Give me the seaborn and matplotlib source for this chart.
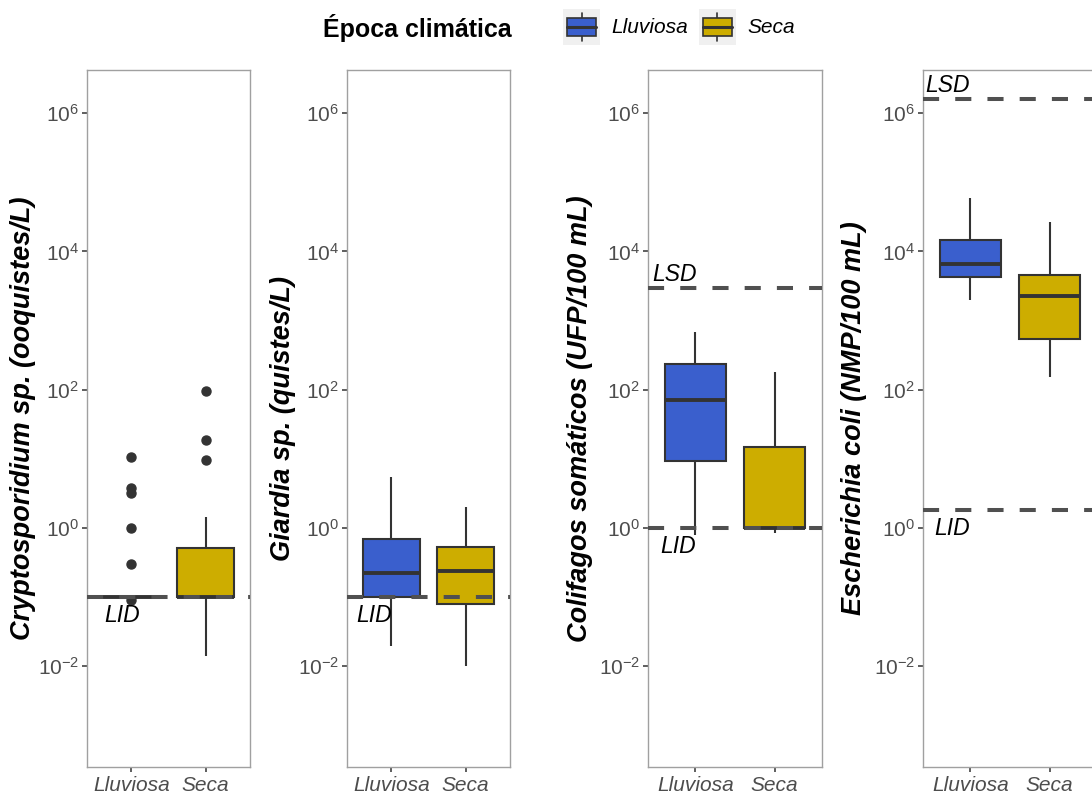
import numpy as np
import pandas as pd
import matplotlib
matplotlib.use('Agg')
import matplotlib.pyplot as plt
import seaborn as sns
from matplotlib.legend_handler import HandlerBase
from matplotlib.patches import Rectangle, Patch
from matplotlib.lines import Line2D
from matplotlib.ticker import NullLocator

sns.set_style('white')
plt.rcParams['font.family'] = ['Liberation Sans', 'DejaVu Sans']
plt.rcParams['text.color'] = 'black'

# categorias y colores
seasons = ['Lluviosa', 'Seca']
season_colors = ['#3A5FCD', '#CDAD00']

# Cryptosporidium sp. (ooquistes/L)
crypto_lluviosa = [0.09, 0.1, 0.1, 0.1, 0.1, 0.1, 0.1, 0.1, 0.1, 0.1, 0.1, 0.1, 0.1, 0.1, 0.1, 0.1,
                   0.3, 1.0, 3.2, 3.8, 10.7]
crypto_seca = [0.014, 0.1, 0.1, 0.1, 0.1, 0.1, 0.1, 0.1, 0.1, 0.14, 0.25, 0.38, 0.51, 1.45, 9.5, 19, 95]

# Giardia sp. (quistes/L)
giardia_lluviosa = [0.02, 0.05, 0.07, 0.09, 0.1, 0.12, 0.15, 0.19, 0.22, 0.3, 0.4, 0.55, 0.69,
                    1.2, 2.0, 3.5, 5.5]
giardia_seca = [0.01, 0.03, 0.05, 0.07, 0.08, 0.1, 0.14, 0.19, 0.24, 0.3, 0.38, 0.45, 0.53,
                0.8, 1.1, 1.5, 2.0]

# Colifagos somaticos (UFP/100 mL)
colif_lluviosa = [0.8, 1.5, 3, 6, 9.3, 20, 35, 50, 70, 100, 140, 190, 234, 300, 400, 520, 676]
colif_seca = [0.85, 1, 1, 1, 1, 1, 1, 1, 1, 2, 4, 8, 14.7, 30, 60, 110, 178]

# Escherichia coli (NMP/100 mL)
ecoli_lluviosa = [2000, 2600, 3200, 3800, 4200, 4800, 5400, 6000, 6500, 7500, 9000, 11500, 14400,
                  20000, 30000, 42000, 60000]
ecoli_seca = [155, 250, 350, 450, 535, 800, 1200, 1700, 2240, 2700, 3200, 3800, 4500,
              7000, 11000, 17000, 27000]

ylabels = ['Cryptosporidium sp. (ooquistes/L)', 'Giardia sp. (quistes/L)',
           'Colifagos somáticos (UFP/100 mL)', 'Escherichia coli (NMP/100 mL)']
lid_values = [0.1, 0.1, 1.0, 1.8]
lsd_values = [None, None, 3000, 1.6e6]
yticks = [1e-2, 1, 1e2, 1e4, 1e6]

groups = [(crypto_lluviosa, crypto_seca), (giardia_lluviosa, giardia_seca),
          (colif_lluviosa, colif_seca), (ecoli_lluviosa, ecoli_seca)]

# posiciones de los paneles (pixeles)
W, H = 1092, 796
panel_px = [(87, 163), (347, 163), (648, 174), (923, 174)]
label_x = [-0.31, -0.31, -0.318, -0.324]
lid_text_x = [-0.37, -0.47, -0.45, -0.46]
lsd_text_x = [None, None, -0.54, -0.57]


class BoxKey(HandlerBase):
    # llave tipo ggplot: fondo gris, bigote, caja y mediana
    def create_artists(self, legend, orig_handle, xdescent, ydescent, width, height, fontsize, trans):
        x0, y0 = -xdescent, -ydescent
        fill = orig_handle.get_facecolor()
        bg = Rectangle((x0, y0), width, height, facecolor='#f0f0f0', edgecolor='none', transform=trans)
        xm = x0 + width / 2
        ym = y0 + height / 2
        whisk = Line2D([xm, xm], [y0 + 0.12 * height, y0 + 0.88 * height], color='#333333', lw=1.2,
                       transform=trans)
        box = Rectangle((x0 + 0.11 * width, y0 + 0.25 * height), 0.78 * width, 0.5 * height,
                        facecolor=fill, edgecolor='#333333', lw=1.2, transform=trans)
        med = Line2D([x0 + 0.11 * width, x0 + 0.89 * width], [ym, ym], color='#333333', lw=2.2,
                     transform=trans)
        return [bg, whisk, box, med]


fig = plt.figure(figsize=(W / 100, H / 100), dpi=100)

for i, (lluv, seca) in enumerate(groups):
    df = pd.DataFrame({'Época': ['Lluviosa'] * len(lluv) + ['Seca'] * len(seca),
                       'valor': list(lluv) + list(seca)})
    left, width = panel_px[i]
    ax = fig.add_axes([left / W, 29 / H, width / W, 697 / H])
    sns.boxplot(data=df, x='Época', y='valor', hue='Época', order=seasons, hue_order=seasons,
                palette=season_colors, saturation=1, log_scale=True, width=0.77,
                linecolor='#333333', linewidth=1.5, fliersize=6.5, legend=False, ax=ax,
                medianprops=dict(linewidth=2.8),
                flierprops=dict(marker='o', markerfacecolor='#333333', markeredgecolor='#333333'),
                showcaps=False)

    ax.axhline(lid_values[i], color='#505050', lw=2.9, ls=(0, (4, 4)), zorder=6)
    ax.annotate('LID', xy=(lid_text_x[i], lid_values[i]), xytext=(0, -18), textcoords='offset points',
                ha='left', va='baseline', fontsize=16.5, fontstyle='italic', color='black')
    if lsd_values[i] is not None:
        ax.axhline(lsd_values[i], color='#505050', lw=2.9, ls=(0, (4, 4)), zorder=6)
        ax.annotate('LSD', xy=(lsd_text_x[i], lsd_values[i]), xytext=(0, 5), textcoords='offset points',
                    ha='left', va='baseline', fontsize=16.5, fontstyle='italic', color='black')

    ax.set_ylim(3.5e-4, 4.2e6)
    ax.set_xlim(-0.6, 1.6)
    ax.set_yticks(yticks)
    ax.yaxis.set_minor_locator(NullLocator())
    ax.set_xticks([0, 1], seasons, fontstyle='italic', fontsize=15)
    ax.tick_params(axis='both', which='major', left=True, bottom=True, direction='out',
                   length=3.6, width=1.1, color='#333333', labelcolor='#4d4d4d', pad=2)
    ax.tick_params(axis='y', labelsize=15)
    ax.tick_params(axis='x', pad=3)
    for sp in ax.spines.values():
        sp.set_visible(True)
        sp.set_color('#a0a0a0')
        sp.set_linewidth(1.0)
    ax.set_xlabel('')
    ax.set_ylabel(ylabels[i], fontsize=19.5, fontweight='bold', fontstyle='italic', color='black')
    ax.yaxis.set_label_coords(label_x[i], 0.5)

# leyenda superior
fig.text(323 / W, 1 - 37 / H, 'Época climática', fontsize=18, fontweight='bold', color='black',
         ha='left', va='baseline')
handles = [Patch(facecolor=c) for c in season_colors]
fig.legend(handles, seasons, handler_map={Patch: BoxKey()}, loc='center left',
           bbox_to_anchor=(563 / W, 1 - 27 / H), ncol=2, frameon=False, labelcolor='black',
           prop={'style': 'italic', 'size': 15}, handlelength=1.78, handleheight=2.28,
           handletextpad=0.55, columnspacing=0.5, borderpad=0, borderaxespad=0)

fig.savefig('out.png', dpi=100)
